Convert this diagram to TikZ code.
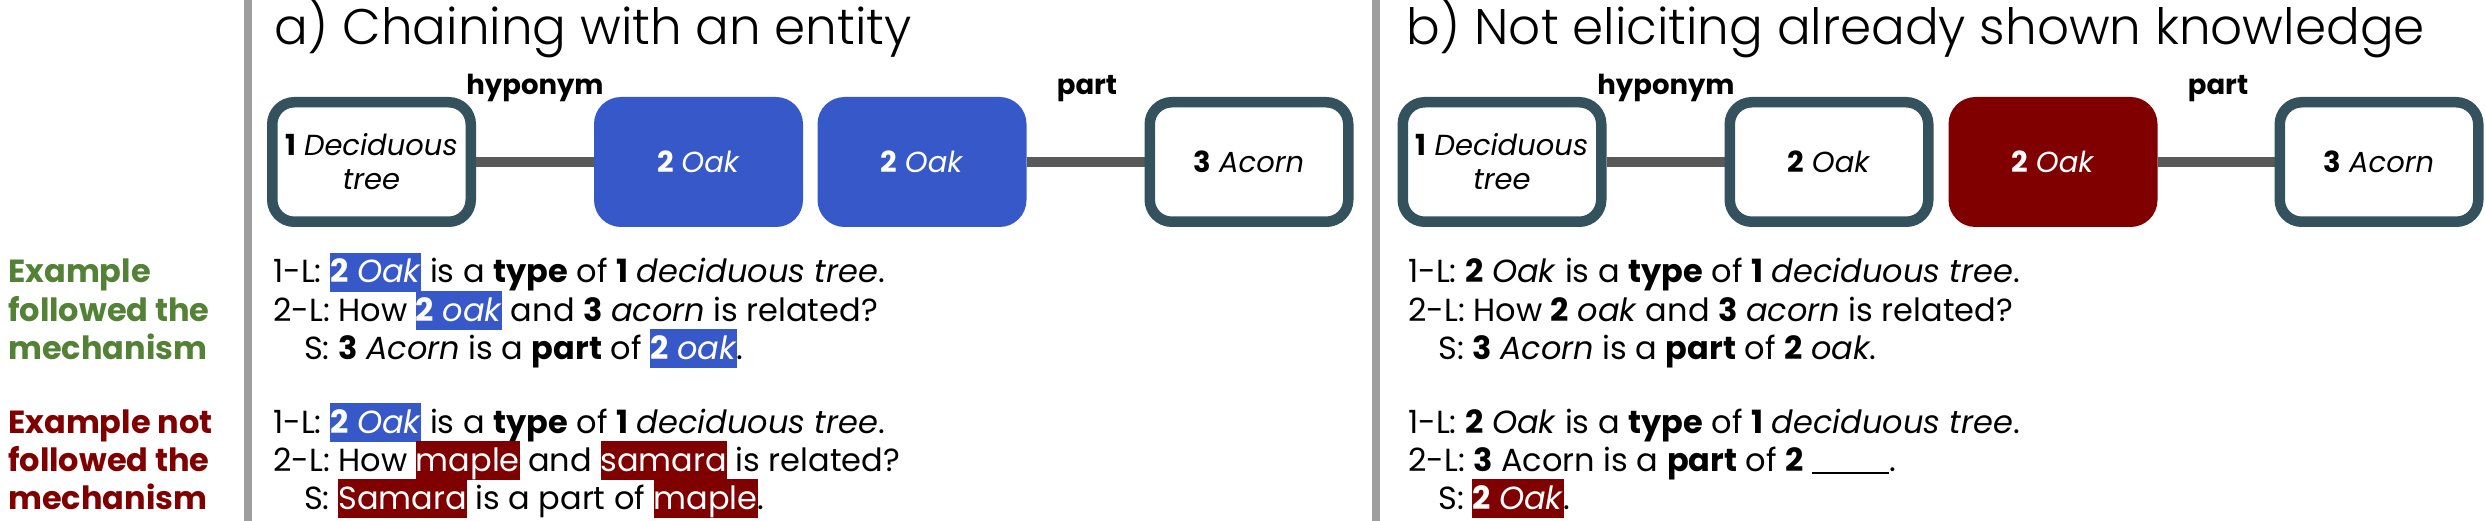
\documentclass[tikz,border=0pt]{standalone}
\usepackage{fontspec}
\setmainfont{Poppins}
\newfontfamily\titlefont{Poppins Light}
\usetikzlibrary{positioning}
\definecolor{hlblue}{RGB}{54,88,201}
\definecolor{hlred}{RGB}{128,0,0}
\definecolor{bordc}{RGB}{52,82,94}
\definecolor{connc}{RGB}{89,89,89}
\definecolor{sepc}{RGB}{158,158,158}
\definecolor{greenc}{RGB}{83,129,53}
\newcommand{\hlB}[1]{{\setlength{\fboxsep}{0pt}\colorbox{hlblue}{\rule[-9pt]{0pt}{39pt}\color{white}#1}}}
\newcommand{\hlR}[1]{{\setlength{\fboxsep}{0pt}\colorbox{hlred}{\rule[-9pt]{0pt}{39pt}\color{white}#1}}}
\pgfdeclarelayer{bg}
\pgfsetlayers{bg,main}
\begin{document}
\begin{tikzpicture}[x=1pt,y=-1pt,
  obox/.style={draw=bordc, line width=10.5pt, fill=white, rounded corners=22pt,
    minimum width=198.5pt, minimum height=119.5pt, inner sep=0pt, align=center,
    font=\fontsize{29}{34}\selectfont},
  fboxA/.style={fill=hlblue, rounded corners=27pt, minimum width=209pt, minimum height=130pt,
    inner sep=0pt, text=white, font=\fontsize{29}{34}\selectfont},
  fboxR/.style={fboxA, fill=hlred},
  conn/.style={draw=connc, line width=10pt},
  rel/.style={anchor=base, font=\fontsize{27.5}{30}\selectfont\bfseries},
  ttl/.style={anchor=base west, font=\fontsize{50}{54}\selectfont\titlefont},
  txt/.style={anchor=base west, inner sep=0pt, font=\fontsize{32}{38}\selectfont},
  lab/.style={anchor=base west, inner sep=0pt, font=\fontsize{32}{38}\selectfont\bfseries},
  sep/.style={draw=sepc, line width=7.5pt}
]
\useasboundingbox (0,0) rectangle (2486,521);
% separators
\coordinate (s1t) at (248,0); \coordinate (s1b) at (248,521);
\coordinate (s2t) at (1376,0); \coordinate (s2b) at (1376,521);
\draw[sep] (s1t) -- (s1b);
\draw[sep] (s2t) -- (s2b);
% titles
\node[ttl, inner sep=0pt] (ta) at (274,45) {a) Chaining with an entity};
\node[ttl, inner sep=0pt] (tb) at (1406,45) {b) Not eliciting already shown knowledge};
% panel a boxes
\node[obox] (a1) at (371.5,162) {\textbf{1} \textit{Deciduous}\\\textit{tree}};
\node[fboxA] (a2) at (698.5,162) {\textbf{2} \textit{Oak}};
\node[fboxA] (a3) at (922,162) {\textbf{2} \textit{Oak}};
\node[obox] (a4) at (1249,162) {\textbf{3} \textit{Acorn}};
\node[rel] (ra1) at (535,95) {hyponym};
\node[rel] (ra2) at (1087,95) {part};
% panel b boxes
\node[obox] (b1) at (1502,162) {\textbf{1} \textit{Deciduous}\\\textit{tree}};
\node[obox] (b2) at (1829,162) {\textbf{2} \textit{Oak}};
\node[fboxR] (b3) at (2053,162) {\textbf{2} \textit{Oak}};
\node[obox] (b4) at (2379,162) {\textbf{3} \textit{Acorn}};
\node[rel] (rb1) at (1666,95) {hyponym};
\node[rel] (rb2) at (2218,95) {part};
\begin{pgfonlayer}{bg}
\draw[conn] (a1.east) -- (a2.west);
\draw[conn] (a3.east) -- (a4.west);
\draw[conn] (b1.east) -- (b2.west);
\draw[conn] (b3.east) -- (b4.west);
\end{pgfonlayer}
% left labels
\node[lab, text=greenc] (g1) at (8,283) {Example};
\node[lab, text=greenc] (g2) at (8,321) {followed the};
\node[lab, text=greenc] (g3) at (8,359) {mechanism};
\node[lab, text=hlred] (r1) at (8,433) {Example not};
\node[lab, text=hlred] (r2) at (8,471) {followed the};
\node[lab, text=hlred] (r3) at (8,509) {mechanism};
% panel a text
\node[txt] (la1) at (273,283) {1-L: \hlB{\textbf{2} \textit{Oak}} is a \textbf{type} of \textbf{1} \textit{deciduous tree}.};
\node[txt] (la2) at (273,321) {2-L: How \hlB{\textbf{2} \textit{oak}} and \textbf{3} \textit{acorn} is related?};
\node[txt] (la3) at (304,359) {S: \textbf{3} \textit{Acorn} is a \textbf{part} of \hlB{\textbf{2} \textit{oak}}.};
\node[txt] (la4) at (273,433) {1-L: \hlB{\textbf{2} \textit{Oak}} is a \textbf{type} of \textbf{1} \textit{deciduous tree}.};
\node[txt] (la5) at (273,471) {2-L: How \hlR{maple} and \hlR{samara} is related?};
\node[txt] (la6) at (304,509) {S: \hlR{Samara} is a part of \hlR{maple}.};
% panel b text
\node[txt] (lb1) at (1408,283) {1-L: \textbf{2} \textit{Oak} is a \textbf{type} of \textbf{1} \textit{deciduous tree}.};
\node[txt] (lb2) at (1408,321) {2-L: How \textbf{2} \textit{oak} and \textbf{3} \textit{acorn} is related?};
\node[txt] (lb3) at (1438,359) {S: \textbf{3} \textit{Acorn} is a \textbf{part} of \textbf{2} \textit{oak}.};
\node[txt] (lb4) at (1408,433) {1-L: \textbf{2} \textit{Oak} is a \textbf{type} of \textbf{1} \textit{deciduous tree}.};
\node[txt] (lb5) at (1408,471) {2-L: \textbf{3} Acorn is a \textbf{part} of \textbf{2} \rule[-3pt]{77pt}{2pt}.};
\node[txt] (lb6) at (1438,509) {S: \hlR{\textbf{2} \textit{Oak}}.};
\end{tikzpicture}
\end{document}
